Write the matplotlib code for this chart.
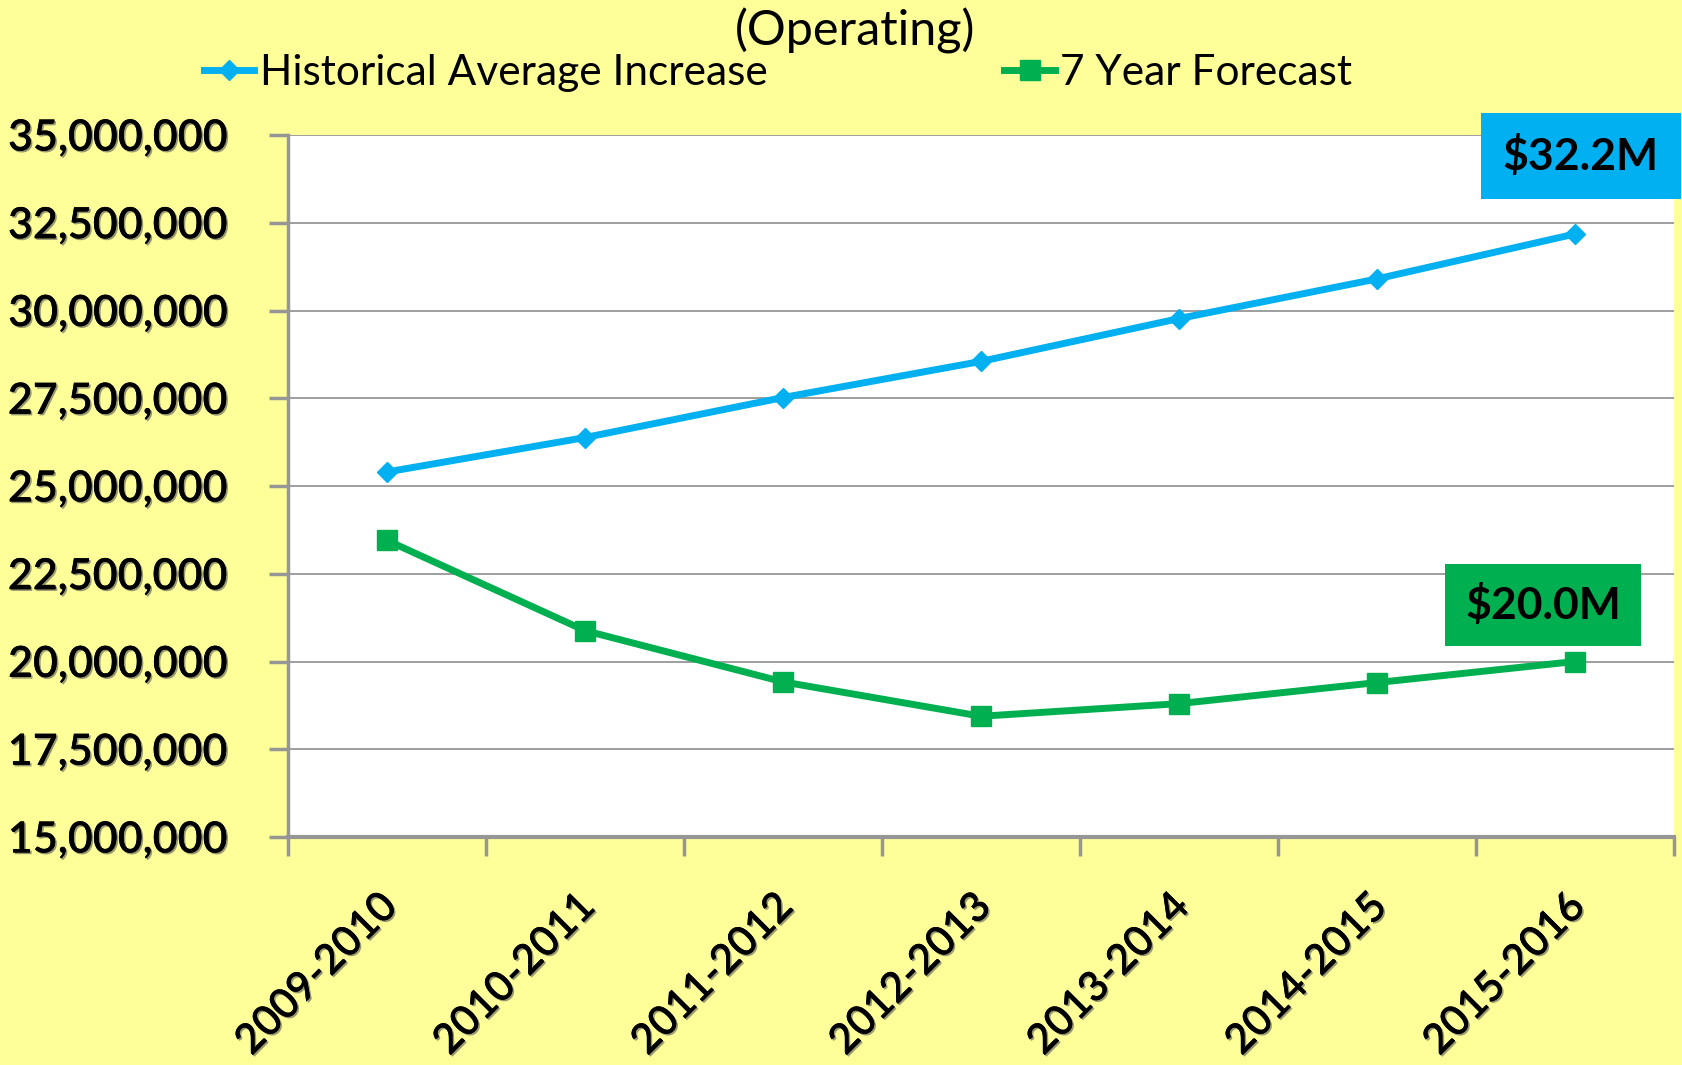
import matplotlib
matplotlib.use("Agg")
import matplotlib.pyplot as plt
import matplotlib.patheffects as pe
import matplotlib.transforms as mtransforms
from matplotlib.ticker import FuncFormatter, FixedLocator
import numpy as np

categories = ["2009-2010", "2010-2011", "2011-2012", "2012-2013", "2013-2014", "2014-2015", "2015-2016"]
historical = [25.40e6, 26.38e6, 27.52e6, 28.55e6, 29.77e6, 30.90e6, 32.18e6]
forecast = [23.45e6, 20.88e6, 19.42e6, 18.44e6, 18.80e6, 19.40e6, 20.00e6]
series_names = ["Historical Average Increase", "7 Year Forecast"]
title = "(Operating)"
label_hist = "$32.2M"
label_fore = "$20.0M"

BG = "#FFFF99"
BLUE = "#00B0F0"
GREEN = "#00B050"
GRID = "#969696"
FONT = "Lato"

plt.rcParams['font.family'] = [FONT, 'DejaVu Sans']

fig = plt.figure(figsize=(16.82, 10.65), dpi=100, facecolor=BG)
ax = fig.add_axes([288/1682, 1-837/1065, (1674-288)/1682, (837-135)/1065])
ax.set_facecolor("white")

x = np.arange(len(categories))
ax.plot(x, historical, color=BLUE, lw=5, marker="D", ms=10, mec=BLUE, mfc=BLUE,
        label=series_names[0], zorder=3, solid_joinstyle="round")
ax.plot(x, forecast, color=GREEN, lw=5, marker="s", ms=14, mec=GREEN, mfc=GREEN,
        label=series_names[1], zorder=3, solid_joinstyle="round")

ax.set_xlim(-0.5, len(categories) - 0.5)
ax.set_ylim(15e6, 35e6)
yt = np.arange(15e6, 35e6 + 1, 2.5e6)
ax.set_yticks(yt)
ax.yaxis.set_major_formatter(FuncFormatter(lambda v, p: f"{int(v):,}"))
ax.grid(axis="y", color=GRID, lw=1.3)
ax.set_axisbelow(True)

ax.set_xticks(x)
ax.set_xticklabels(categories)
ax.xaxis.set_minor_locator(FixedLocator(np.arange(-0.5, len(categories), 1.0)))
ax.tick_params(axis="x", which="major", length=0, pad=36)
ax.tick_params(axis="x", which="minor", length=14, width=2.5, color=GRID, direction="out")
ax.tick_params(axis="y", length=14, width=2.5, color=GRID, direction="out", pad=30)

shadow = [pe.withSimplePatchShadow(offset=(1.2, -1.2), shadow_rgbFace="#555555", alpha=0.6), pe.Normal()]
for lab in ax.get_yticklabels():
    lab.set_fontsize(31)
    lab.set_fontweight("semibold")
    lab.set_path_effects(shadow)
offset = mtransforms.ScaledTranslation(-10/100, 0, fig.dpi_scale_trans)
for lab in ax.get_xticklabels():
    lab.set_fontsize(30)
    lab.set_fontweight("semibold")
    lab.set_rotation(45)
    lab.set_ha("right")
    lab.set_va("top")
    lab.set_rotation_mode("anchor")
    lab.set_path_effects(shadow)
    lab.set_transform(lab.get_transform() + offset)

for s in ["top", "right"]:
    ax.spines[s].set_visible(False)
ax.spines["left"].set_color(GRID)
ax.spines["left"].set_linewidth(2.5)
ax.spines["bottom"].set_color(GRID)
ax.spines["bottom"].set_linewidth(3)

fig.text(855/1682, 1-31/1065, title, ha="center", va="center", fontsize=35)

leg = fig.legend(loc="center", bbox_to_anchor=(778/1682, 1-73/1065), ncol=2, frameon=False,
                 fontsize=30.5, columnspacing=5.6, handlelength=1.2, handletextpad=0.12,
                 markerscale=1.0)

# value boxes
ax.annotate(label_hist, xy=(len(categories)-1, historical[-1]), xycoords="data",
            xytext=(1581/1682, 1-156/1065), textcoords="figure fraction",
            ha="center", va="center", fontsize=32, fontweight="bold", color="black",
            bbox=dict(boxstyle="square,pad=0.5", fc=BLUE, ec="none"),
            annotation_clip=False, zorder=5)
ax.annotate(label_fore, xy=(len(categories)-1, forecast[-1]), xycoords="data",
            xytext=(1543/1682, 1-605/1065), textcoords="figure fraction",
            ha="center", va="center", fontsize=32, fontweight="bold", color="black",
            bbox=dict(boxstyle="square,pad=0.45", fc=GREEN, ec="none"),
            annotation_clip=False, zorder=5)

fig.savefig("out.png", dpi=100, facecolor=BG)
